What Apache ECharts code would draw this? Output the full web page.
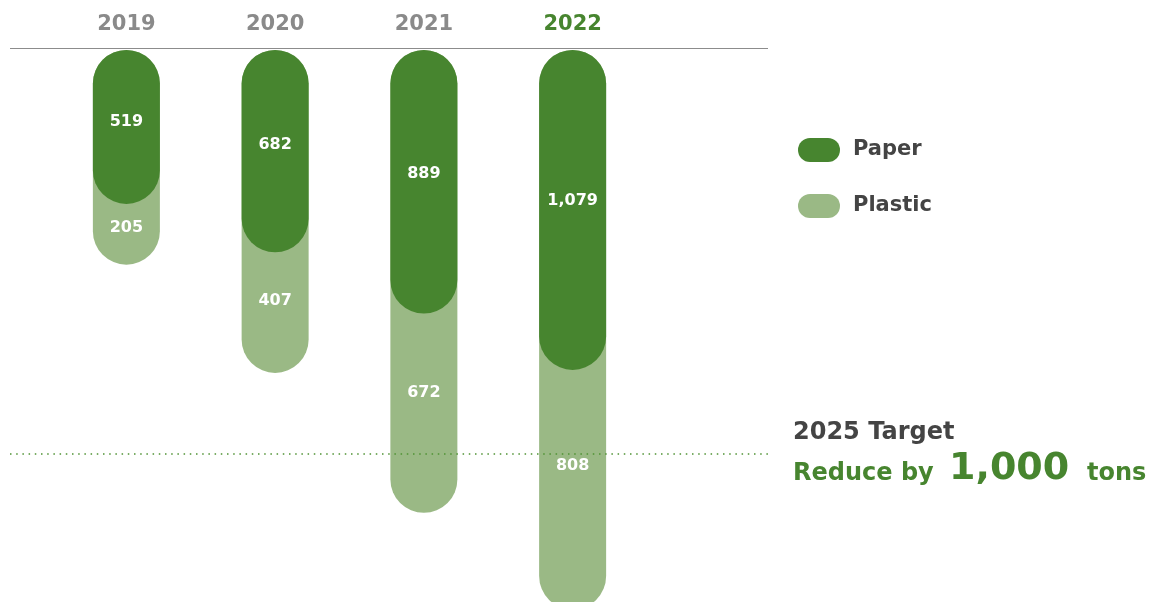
<!DOCTYPE html>
<html>
<head>
<meta charset="utf-8">
<style>html,body{margin:0;padding:0;background:#fff;}#c{width:1149px;height:602px;}</style>
<script src="https://cdn.jsdelivr.net/npm/echarts@6/dist/echarts.min.js"></script>
</head>
<body>
<div id="c"></div>
<script>
// ---- data ----
const years = ['2019', '2020', '2021', '2022'];
const paper = [519, 682, 889, 1079];
const plastic = [205, 407, 672, 808];
const seriesNames = ['Paper', 'Plastic'];
const highlightYear = '2022';

const DARK = '#47852f';
const LIGHT = '#9ab985';
const FONT = '"DejaVu Sans", sans-serif';

const totals = paper.map((p, i) => p + plastic[i]);

const chart = echarts.init(document.getElementById('c'), null, {renderer: 'canvas'});
const pill = 'path://M12,0 H30 A12,12 0 0 1 30,24 H12 A12,12 0 0 1 12,0 Z';

chart.setOption({
  animation: false,
  backgroundColor: '#fff',
  grid: {left: 52, width: 595, top: 50, height: 593, containLabel: false, outerBoundsMode: 'none'},
  xAxis: {
    type: 'category',
    position: 'top',
    data: years.map(y => y === highlightYear
      ? {value: y, textStyle: {color: DARK}}
      : y),
    axisLine: {show: false},
    axisTick: {show: false},
    axisLabel: {
      margin: 15, fontFamily: FONT, fontWeight: 'bold', fontSize: 21, color: '#8a8a8a'
    }
  },
  yAxis: {
    type: 'value', inverse: true, min: 0, max: 2000,
    show: false, splitLine: {show: false}
  },
  legend: {
    data: seriesNames,
    orient: 'vertical',
    left: 798, top: 138, padding: 0,
    itemWidth: 42, itemHeight: 24, itemGap: 32,
    icon: pill,
    textStyle: {fontFamily: FONT, fontWeight: 'bold', fontSize: 21, color: '#444', padding: [0, 0, 0, 8]},
    selectedMode: false
  },
  series: [
    {
      name: 'Plastic', type: 'bar', data: totals, barWidth: 67, barGap: '-100%',
      clip: false,
      itemStyle: {color: LIGHT, borderRadius: 33.5},
      z: 1
    },
    {
      name: 'Paper', type: 'bar', stack: 's', data: paper, barWidth: 67, barGap: '-100%',
      clip: false,
      itemStyle: {color: DARK, borderRadius: 33.5},
      label: {
        show: true, position: ['50%', '47%'], align: 'center', verticalAlign: 'middle',
        color: '#fff', fontFamily: FONT, fontWeight: 'bold', fontSize: 16,
        formatter: p => p.value.toLocaleString('en-US')
      },
      z: 3
    },
    {
      name: 'PlasticLabel', type: 'bar', stack: 's', data: plastic, barWidth: 67, barGap: '-100%',
      clip: false,
      itemStyle: {color: 'rgba(0,0,0,0)'},
      label: {
        show: true, position: ['50%', '40%'], align: 'center', verticalAlign: 'middle',
        color: '#fff', fontFamily: FONT, fontWeight: 'bold', fontSize: 16,
        formatter: p => p.value.toLocaleString('en-US')
      },
      z: 4
    }
  ],
  graphic: [
    {type: 'line', shape: {x1: 10, y1: 48.5, x2: 768, y2: 48.5}, style: {stroke: '#8c8c8c', lineWidth: 1}, z: 0},
    {type: 'line', shape: {x1: 10, y1: 454, x2: 768, y2: 454},
      style: {stroke: '#4f9233', lineWidth: 1.5, lineDash: [1.5, 4.7]}, z: 10},
    {type: 'text', left: 793, top: 421,
      style: {text: '2025 Target', fontFamily: FONT, fontWeight: 'bold', fontSize: 24, fill: '#444'}},
    {type: 'text', left: 793, top: 462,
      style: {text: 'Reduce by', fontFamily: FONT, fontWeight: 'bold', fontSize: 24, fill: DARK}},
    {type: 'text', left: 949, top: 450,
      style: {text: '1,000', fontFamily: FONT, fontWeight: 'bold', fontSize: 38, fill: DARK}},
    {type: 'text', left: 1087, top: 462,
      style: {text: 'tons', fontFamily: FONT, fontWeight: 'bold', fontSize: 24, fill: DARK}}
  ]
});
</script>
</body>
</html>
